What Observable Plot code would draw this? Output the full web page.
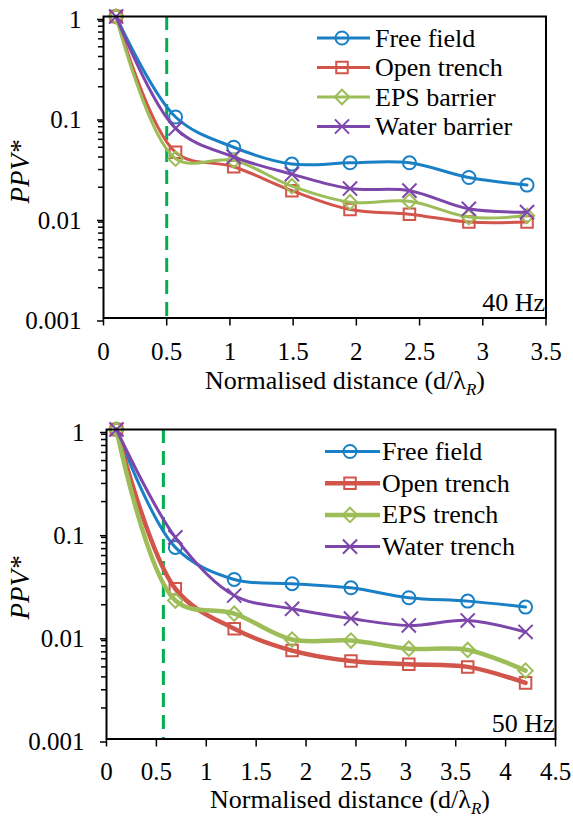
<!DOCTYPE html>
<html>
<head>
<meta charset="utf-8">
<script src="https://cdn.jsdelivr.net/npm/d3@7"></script>
<script src="https://cdn.jsdelivr.net/npm/@observablehq/plot@0.6"></script>
<style>
  html, body { margin: 0; padding: 0; background: #fff; }
  #c { position: relative; width: 573px; height: 819px; overflow: hidden; }
  #c svg { position: absolute; left: 0; display: block; }
</style>
</head>
<body>
<div id="c"></div>
<script>
// ---------- data ----------
const seriesNamesTop = ["Free field", "Open trench", "EPS barrier", "Water barrier"];
const seriesNamesBot = ["Free field", "Open trench", "EPS trench", "Water trench"];

const xTop = [0.1, 0.57, 1.03, 1.49, 1.95, 2.42, 2.89, 3.35];
const topFree  = [1, 0.1,    0.05,  0.034,  0.035,  0.035,  0.025,  0.021];
const topOpen  = [1, 0.0445, 0.032, 0.0185, 0.012,  0.0108, 0.009,  0.009];
const topEps   = [1, 0.0385, 0.037, 0.0205, 0.0142, 0.0145, 0.0101, 0.0104];
const topWater = [1, 0.077,  0.04,  0.027,  0.0194, 0.0185, 0.0122, 0.0113];

const xBot = [0.1, 0.69, 1.28, 1.86, 2.45, 3.03, 3.62, 4.2];
const botFree  = [1, 0.072,  0.0352, 0.032,  0.0292, 0.0234, 0.0217, 0.019];
const botOpen  = [1, 0.0286, 0.0117, 0.0072, 0.0057, 0.0053, 0.005,  0.0035];
const botEps   = [1, 0.022,  0.0164, 0.0092, 0.009,  0.0075, 0.0073, 0.0046];
const botWater = [1, 0.09,   0.0246, 0.0183, 0.0147, 0.0126, 0.0141, 0.0109];

const xTicksTop = [0, 0.5, 1, 1.5, 2, 2.5, 3, 3.5];
const xTicksBot = [0, 0.5, 1, 1.5, 2, 2.5, 3, 3.5, 4, 4.5];
const yTicks = [0.001, 0.01, 0.1, 1];
const yMinor = [];
for (const d of [0.001, 0.01, 0.1]) for (let k = 2; k <= 9; k++) yMinor.push(+(d * k).toPrecision(3));

const dashTop = [0.5];
const dashBot = [0.57];

const colors = ["#1a80c6", "#d2554b", "#9cbd57", "#7d46ab"];
const symbols = ["circle", "square", "diamond2", "times"];
const FONT = "Liberation Serif, Tinos, DejaVu Serif, serif";

function makeChart(cfg) {
  const data = cfg.series.map((vals, i) => vals.map((v, j) => ({x: cfg.xs[j], y: v, s: i})));
  const marks = [
    Plot.axisY(yMinor, {tickSize: 5, tickFormat: () => "", strokeWidth: 1.5, label: null}),
    Plot.axisY(yTicks, {tickSize: 6, tickPadding: 16, tickFormat: d => String(d), strokeWidth: 1.5, label: null, fontSize: 25, dy: 3}),
    Plot.axisX(cfg.xTicks, {tickSize: 8, tickPadding: cfg.tickPad, tickFormat: d => String(d), strokeWidth: 1.5, label: null, fontSize: 25}),
    Plot.ruleX(cfg.dash, {stroke: "#00b050", strokeWidth: 3, strokeDasharray: "14,8"})
  ];
  data.forEach((d, i) => {
    marks.push(Plot.line(d, {x: "x", y: "y", stroke: colors[i], strokeWidth: cfg.lw[i], curve: "catmull-rom"}));
    marks.push(Plot.dot(d, {x: "x", y: "y", stroke: colors[i], symbol: symbols[i], r: 6.5, strokeWidth: 2, fill: "none"}));
  });
  marks.push(Plot.frame({stroke: "black", strokeWidth: 2}));
  marks.push(Plot.text([cfg.freq], {frameAnchor: "bottom-right", textAnchor: "end", lineAnchor: "bottom", dx: -1, dy: -7, fontSize: 26, fill: "black"}));

  const svg = Plot.plot({
    width: 573, height: cfg.height,
    marginTop: cfg.mt, marginBottom: cfg.mb, marginLeft: cfg.ml, marginRight: cfg.mr,
    x: {domain: cfg.xDomain},
    y: {type: "log", domain: [0.001, 1]},
    style: {fontFamily: FONT, fontSize: "25px", color: "black", background: "white", overflow: "visible"},
    marks
  });
  svg.style.top = cfg.top + "px";
  const s = d3.select(svg);

  // y label
  s.append("text")
    .attr("transform", `translate(${cfg.ylx},${cfg.yly}) rotate(-90)`)
    .attr("text-anchor", "middle").attr("dy", "0.35em")
    .style("font-family", FONT).style("font-size", "27px").style("font-style", "italic")
    .text("PPV*");

  // x label with subscript
  const t = s.append("text")
    .attr("x", cfg.xlx).attr("y", cfg.xly).attr("text-anchor", "middle")
    .style("font-family", FONT).style("font-size", "26px");
  t.append("tspan").text("Normalised distance (d/λ");
  t.append("tspan").attr("dy", 6).style("font-size", "17px").style("font-style", "italic").text("R");
  t.append("tspan").attr("dy", -6).text(")");

  // legend
  cfg.names.forEach((name, i) => {
    const yy = cfg.leg.y0 + i * cfg.leg.dy;
    const g = s.append("g");
    g.append("line").attr("x1", cfg.leg.x1).attr("x2", cfg.leg.x2).attr("y1", yy).attr("y2", yy)
      .attr("stroke", colors[i]).attr("stroke-width", cfg.lw[i]);
    const sym = d3.symbol().type({circle: d3.symbolCircle, square: d3.symbolSquare, diamond2: d3.symbolDiamond2, times: d3.symbolTimes}[symbols[i]]).size(6.5 * 6.5 * Math.PI);
    g.append("path").attr("d", sym()).attr("transform", `translate(${cfg.leg.xm},${yy})`)
      .attr("fill", "none").attr("stroke", colors[i]).attr("stroke-width", 2);
    g.append("text").attr("x", cfg.leg.xt).attr("y", yy).attr("dy", "0.33em")
      .attr("text-anchor", "start")
      .style("font-family", FONT).style("font-size", "26px").text(name);
  });
  return svg;
}

const root = document.getElementById("c");
root.appendChild(makeChart({
  top: 0, height: 400, mt: 16, mb: 82.5, ml: 103, mr: 27.5,
  xs: xTop, series: [topFree, topOpen, topEps, topWater],
  xDomain: [0, 3.5], xTicks: xTicksTop, tickPad: 16, dash: dashTop,
  lw: [3, 3, 3, 3], freq: "40 Hz", names: seriesNamesTop,
  ylx: 20, yly: 172, xlx: 345, xly: 389,
  leg: {x1: 317, x2: 370, xm: 342, xt: 375, y0: 38, dy: 29.5}
}));
root.appendChild(makeChart({
  top: 400, height: 419, mt: 29, mb: 80.5, ml: 106, mr: 18,
  xs: xBot, series: [botFree, botOpen, botEps, botWater],
  xDomain: [0, 4.5], xTicks: xTicksBot, tickPad: 15, dash: dashBot,
  lw: [3, 4.5, 4.5, 3], freq: "50 Hz", names: seriesNamesBot,
  ylx: 20, yly: 188, xlx: 350, xly: 408,
  leg: {x1: 325, x2: 380, xm: 350, xt: 382, y0: 51.5, dy: 31.7}
}));
</script>
</body>
</html>
